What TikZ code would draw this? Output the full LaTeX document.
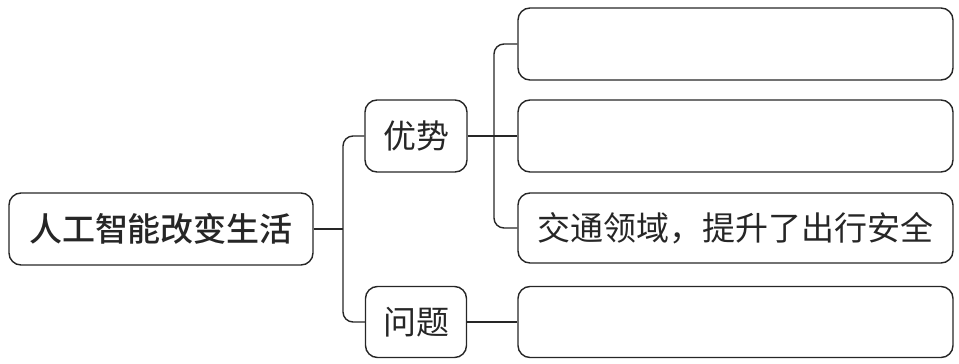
\documentclass[tikz,border=0pt]{standalone}
\usepackage{fontspec}
\newfontfamily\cjk{Noto Sans CJK SC}[BoldFont={Noto Sans CJK SC Medium}]
\begin{document}
\begin{tikzpicture}[x=1pt,y=-1pt,
  box/.style={draw=black!85, line width=1.4pt, rounded corners=12pt, inner sep=0pt, align=center, font=\cjk\fontsize{33}{33}\selectfont, text=black!85},
  link/.style={draw=black!85, line width=1.4pt}]
\useasboundingbox (0,0) rectangle (959,364);
\node[box, minimum width=304pt, minimum height=72pt, font=\cjk\bfseries\fontsize{33}{33}\selectfont] (root) at (161,229) {人工智能改变生活};
\node[box, minimum width=102pt, minimum height=72pt] (adv) at (416,136) {优势};
\node[box, minimum width=101pt, minimum height=71pt] (prob) at (416,322) {问题};
\node[box, minimum width=435pt, minimum height=72pt] (r1) at (735.5,44) {};
\node[box, minimum width=435pt, minimum height=72pt] (r2) at (735.5,136) {};
\node[box, minimum width=435pt, minimum height=70pt] (r3) at (735.5,228) {交通领域，提升了出行安全};
\node[box, minimum width=435pt, minimum height=71pt] (r4) at (735.5,322) {};
\coordinate (j1) at (343,229);
\coordinate (j2) at (494,0);
\draw[link] (root.east) -- (j1);
\draw[link, rounded corners=10pt] (adv.west) -- (adv.west -| j1) -- (prob.west -| j1) -- (prob.west);
\draw[link] (adv.east) -- (r2.west);
\draw[link, rounded corners=10pt] (r1.west) -- (r1.west -| j2) -- (r3.west -| j2) -- (r3.west);
\draw[link] (prob.east) -- (r4.west);
\end{tikzpicture}
\end{document}
